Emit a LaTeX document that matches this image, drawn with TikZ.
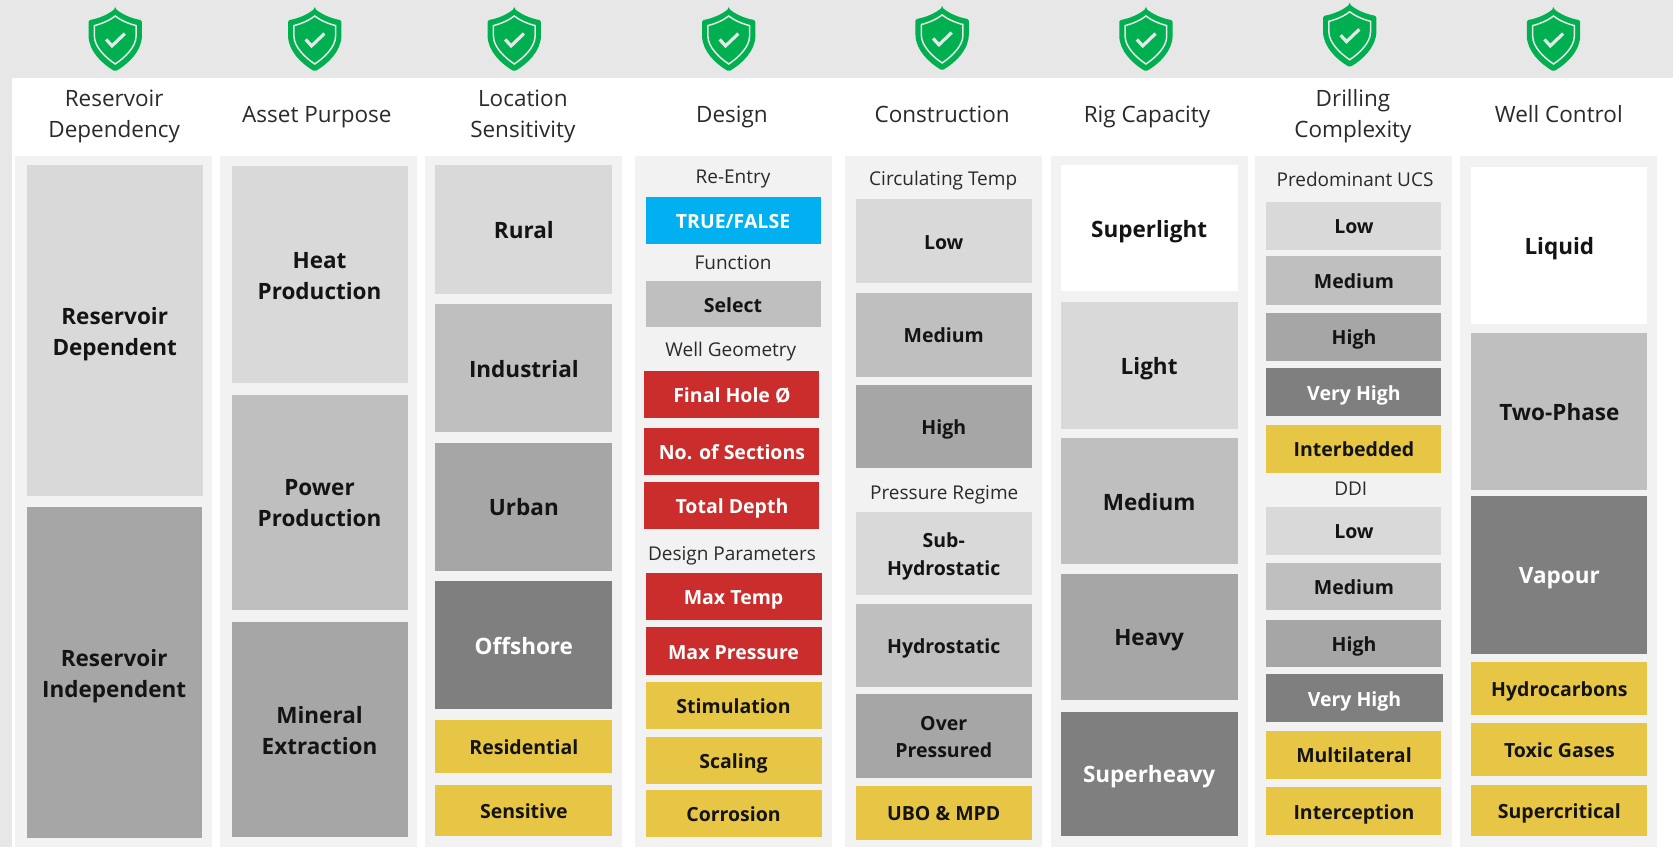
\documentclass[tikz,border=0pt]{standalone}
\usepackage{fontspec}
\setmainfont{Open Sans}
\definecolor{pagebg}{HTML}{E7E7E7}
\definecolor{panelbg}{HTML}{F2F2F2}
\definecolor{lightg}{HTML}{D9D9D9}
\definecolor{midg}{HTML}{BFBFBF}
\definecolor{darkg}{HTML}{A6A6A6}
\definecolor{vdarkg}{HTML}{7F7F7F}
\definecolor{yel}{HTML}{E7C545}
\definecolor{redb}{HTML}{CB2C2C}
\definecolor{blueb}{HTML}{00B0F0}
\definecolor{greens}{HTML}{00B050}
\definecolor{ink}{HTML}{141414}
\definecolor{headink}{HTML}{2A2A2A}
\tikzset{
  boxbase/.style={inner sep=0pt,align=center,text=ink},
  bigt/.style={boxbase,font=\fontsize{22.5}{31}\selectfont\bfseries},
  medt/.style={boxbase,font=\fontsize{19.5}{27.5}\selectfont\bfseries},
  wh/.style={fill=white},
  lg/.style={fill=lightg},
  mg/.style={fill=midg},
  dg/.style={fill=darkg},
  vd/.style={fill=vdarkg,text=white},
  yl/.style={fill=yel},
  rd/.style={fill=redb,text=white},
  bl/.style={fill=blueb,text=white},
  headt/.style={inner sep=0pt,align=center,text=headink,font=\fontsize{22.5}{31}\selectfont},
  subt/.style={inner sep=0pt,align=center,text=headink,font=\fontsize{19}{25}\selectfont},
  panelbox/.style={fill=panelbg}
}
\newcounter{bxn}
\newcommand{\bx}[6]{%
  \stepcounter{bxn}%
  \pgfmathsetlengthmacro\bw{(#4-#2)*1.06696}%
  \pgfmathsetlengthmacro\bh{(#5-#3)*1.06675}%
  \node[#1,minimum width=\bw,minimum height=\bh] (b\thebxn) at ({(#2+#4)/2},{(#3+#5)/2}) {#6};}
\newcommand{\upst}{\rule{0pt}{0.88\baselineskip}}
\newcommand{\dnst}{\rule[-0.3\baselineskip]{0pt}{0.3\baselineskip}}
\newcommand{\one}[1]{\upst\dnst #1}
\newcommand{\two}[2]{\upst #1\\\dnst #2}
\newcommand{\panel}[2]{\fill[panelbox] (#1,146) rectangle (#2,794);}
\newcommand{\sub}[3]{\stepcounter{bxn}\node[subt] (s\thebxn) at (#1,#2) {\one{#3}};}
\newcommand{\head}[3]{\stepcounter{bxn}\node[headt] (h\thebxn) at (#1,#2) {#3};}
\newcommand{\shield}[2]{%
  \begin{scope}[shift={(#1,#2)}]
    \fill[greens,rounded corners=1.5pt] (0,0) .. controls (6,5) and (14,9) .. (25,11)
      -- (25,24) .. controls (25,40) and (12,52) .. (0,59)
      .. controls (-12,52) and (-25,40) .. (-25,24) -- (-25,11)
      .. controls (-14,9) and (-6,5) .. (0,0) -- cycle;
    \draw[pagebg,line width=1.5pt] (0,7) .. controls (5,11) and (12,14) .. (19.5,16)
      -- (19.5,26) .. controls (19.5,36) and (9,46) .. (0,52)
      .. controls (-9,46) and (-19.5,36) .. (-19.5,26) -- (-19.5,16)
      .. controls (-12,14) and (-5,11) .. (0,7) -- cycle;
    \draw[pagebg,line width=3.2pt] (-8.5,29) -- (-3,35) -- (9,23.5);
  \end{scope}}
\begin{document}
\begin{tikzpicture}[x=1.06696pt,y=-1.06675pt]
\useasboundingbox (0,0) rectangle (1568,794);
\fill[pagebg] (0,0) rectangle (1568,794);
\fill[white] (11,73) rectangle (1568,794);
% shields
\shield{108}{8}\shield{295}{8}\shield{482}{8}\shield{683}{8}
\shield{883}{7}\shield{1074}{8}\shield{1265}{4}\shield{1456}{8}
% headings
\head{107}{105.5}{\two{Reservoir}{Dependency}}
\head{297}{106}{\one{Asset Purpose}}
\head{490}{105.5}{\two{Location}{Sensitivity}}
\head{686}{106}{\one{Design}}
\head{883}{106}{\one{Construction}}
\head{1075}{106}{\one{Rig Capacity}}
\head{1268}{105.5}{\two{Drilling}{Complexity}}
\head{1461}{106}{\one{Well Control}}
% panels
\panel{14}{199}\panel{206}{391}\panel{398}{583}\panel{595}{780}
\panel{792}{977}\panel{985}{1170}\panel{1176}{1361}\panel{1368}{1553}
% column 1
\bx{bigt,lg}{25}{155}{190}{465}{\two{Reservoir}{Dependent}}
\bx{bigt,dg}{25}{475}{189}{786}{\two{Reservoir}{Independent}}
% column 2
\bx{bigt,lg}{217}{156}{382}{359}{\two{Heat}{Production}}
\bx{bigt,mg}{217}{370}{382}{572}{\two{Power}{Production}}
\bx{bigt,dg}{217}{583}{382}{785}{\two{Mineral}{Extraction}}
% column 3
\bx{bigt,lg}{408}{155}{574}{276}{\one{Rural}}
\bx{bigt,mg}{408}{285}{574}{405}{\one{Industrial}}
\bx{bigt,dg}{408}{415}{574}{535}{\one{Urban}}
\bx{bigt,vd}{408}{545}{574}{665}{\one{Offshore}}
\bx{medt,yl}{408}{675}{574}{725}{\one{Residential}}
\bx{medt,yl}{408}{736}{574}{784}{\one{Sensitive}}
% column 4
\sub{687}{165}{Re-Entry}
\bx{medt,bl}{605}{185}{769}{229}{\one{TRUE/FALSE}}
\sub{687}{246}{Function}
\bx{medt,mg}{605}{263}{769}{307}{\one{Select}}
\sub{685}{327}{Well Geometry}
\bx{medt,rd}{604}{348}{768}{392}{\one{Final Hole Ø}}
\bx{medt,rd}{604}{401}{768}{445}{\one{No. of Sections}}
\bx{medt,rd}{604}{452}{768}{496}{\one{Total Depth}}
\sub{686}{519}{Design Parameters}
\bx{medt,rd}{605}{537}{770}{581}{\one{Max Temp}}
\bx{medt,rd}{605}{588}{770}{633}{\one{Max Pressure}}
\bx{medt,yl}{605}{639}{770}{683}{\one{Stimulation}}
\bx{medt,yl}{605}{691}{770}{735}{\one{Scaling}}
\bx{medt,yl}{605}{741}{770}{785}{\one{Corrosion}}
% column 5
\sub{884}{167}{Circulating Temp}
\bx{medt,lg}{802}{187}{967}{265}{\one{Low}}
\bx{medt,mg}{802}{275}{967}{353}{\one{Medium}}
\bx{medt,dg}{802}{361}{967}{439}{\one{High}}
\sub{885}{461}{Pressure Regime}
\bx{medt,lg}{802}{480}{967}{558}{\two{Sub-}{Hydrostatic}}
\bx{medt,mg}{802}{566}{967}{644}{\one{Hydrostatic}}
\bx{medt,dg}{802}{651}{967}{729}{\two{Over}{Pressured}}
\bx{medt,yl}{802}{737}{967}{787}{\one{UBO \& MPD}}
% column 6
\bx{bigt,wh}{994}{155}{1160}{273}{\one{Superlight}}
\bx{bigt,lg}{994}{283}{1160}{402}{\one{Light}}
\bx{bigt,mg}{994}{411}{1160}{529}{\one{Medium}}
\bx{bigt,dg}{994}{538}{1160}{656}{\one{Heavy}}
\bx{bigt,vd}{994}{667}{1160}{784}{\one{Superheavy}}
% column 7
\sub{1270}{168}{Predominant UCS}
\bx{medt,lg}{1187}{189}{1351}{234}{\one{Low}}
\bx{medt,mg}{1187}{240}{1351}{286}{\one{Medium}}
\bx{medt,dg}{1187}{293}{1351}{338}{\one{High}}
\bx{medt,vd}{1187}{345}{1351}{390}{\one{Very High}}
\bx{medt,yl}{1187}{398}{1351}{443}{\one{Interbedded}}
\sub{1266}{458}{DDI}
\bx{medt,lg}{1187}{475}{1351}{520}{\one{Low}}
\bx{medt,mg}{1187}{528}{1351}{572}{\one{Medium}}
\bx{medt,dg}{1187}{581}{1351}{625}{\one{High}}
\bx{medt,vd}{1187}{632}{1352}{677}{\one{Very High}}
\bx{medt,yl}{1187}{685}{1351}{730}{\one{Multilateral}}
\bx{medt,yl}{1187}{738}{1351}{783}{\one{Interception}}
% column 8
\bx{bigt,wh}{1379}{157}{1544}{304}{\one{Liquid}}
\bx{bigt,mg}{1379}{312}{1544}{459}{\one{Two-Phase}}
\bx{bigt,vd}{1379}{465}{1544}{613}{\one{Vapour}}
\bx{medt,yl}{1379}{621}{1544}{670}{\one{Hydrocarbons}}
\bx{medt,yl}{1379}{678}{1544}{727}{\one{Toxic Gases}}
\bx{medt,yl}{1379}{736}{1544}{784}{\one{Supercritical}}
\end{tikzpicture}
\end{document}
